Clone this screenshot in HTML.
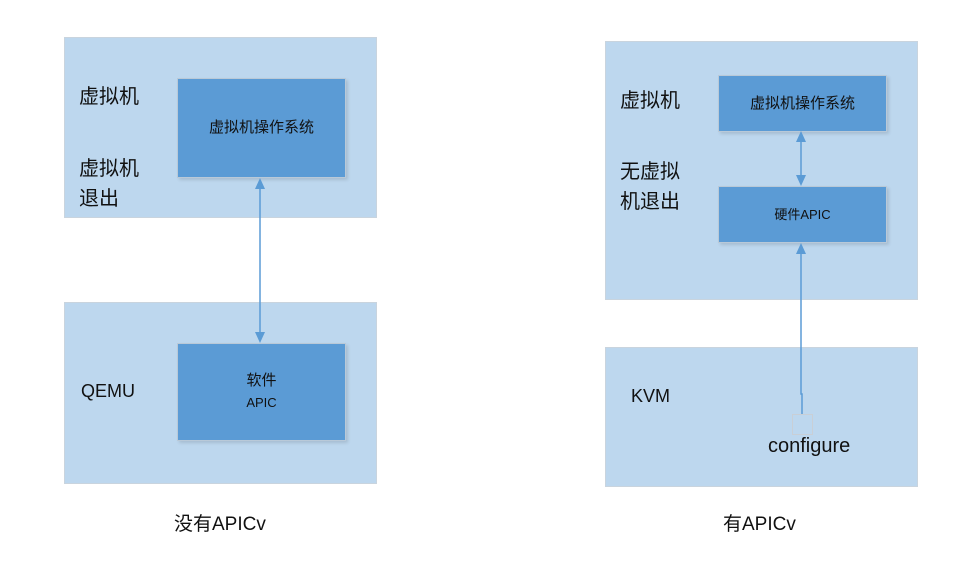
<!DOCTYPE html>
<html><head><meta charset="utf-8"><style>
body{margin:0;width:970px;height:571px;background:#fff;position:relative;overflow:hidden;font-family:"Liberation Sans","Noto Sans CJK SC",sans-serif;}
.o{position:absolute;background:#bdd7ee;border:1px solid #c9d4de;box-sizing:border-box;}
.i{position:absolute;background:#5b9bd5;border:1px solid #b9c9d8;box-sizing:border-box;display:flex;align-items:center;justify-content:center;text-align:center;font-size:15px;color:#111;line-height:22px;box-shadow:2px 2px 3px rgba(0,0,0,0.12);}
.t{position:absolute;font-size:19px;color:#111;line-height:30px;}
</style></head><body>
<div class="o" style="left:64px;top:37px;width:313px;height:181px"></div>
<div class="i" style="left:177px;top:78px;width:169px;height:100px">虚拟机操作系统</div>
<div class="t" style="left:79px;top:82px;font-size:20px">虚拟机</div>
<div class="t" style="left:79px;top:154px;font-size:20px">虚拟机<br>退出</div>

<div class="o" style="left:64px;top:302px;width:313px;height:182px"></div>
<div class="i" style="left:177px;top:343px;width:169px;height:98px"><div>软件<br><span style="font-size:13px">APIC</span></div></div>
<div class="t" style="left:81px;top:376px;font-size:18px">QEMU</div>

<div class="o" style="left:605px;top:41px;width:313px;height:259px"></div>
<div class="i" style="left:718px;top:75px;width:169px;height:57px">虚拟机操作系统</div>
<div class="i" style="left:718px;top:186px;width:169px;height:57px;font-size:13px">硬件APIC</div>
<div class="t" style="left:620px;top:86px;font-size:20px">虚拟机</div>
<div class="t" style="left:620px;top:157px;font-size:20px">无虚拟<br>机退出</div>

<div class="o" style="left:605px;top:347px;width:313px;height:140px"></div>
<div class="t" style="left:631px;top:381px;font-size:18px">KVM</div>
<div style="position:absolute;left:792px;top:414px;width:21px;height:21px;border:1px solid #c9cfd6;box-sizing:border-box"></div>
<div class="t" style="left:768px;top:431px;font-size:20px">configure</div>

<div class="t" style="left:174px;top:510px;font-size:19px">没有APICv</div>
<div class="t" style="left:723px;top:510px;font-size:19px">有APICv</div>

<svg width="970" height="571" style="position:absolute;left:0;top:0">
<g stroke="#5b9bd5" stroke-width="1.5" fill="#5b9bd5">
<line x1="260" y1="188" x2="260" y2="333"/>
<polygon points="260,178 255,189 265,189" stroke="none"/>
<polygon points="260,343 255,332 265,332" stroke="none"/>
<line x1="801" y1="141" x2="801" y2="176"/>
<polygon points="801,131 796,142 806,142" stroke="none"/>
<polygon points="801,186 796,175 806,175" stroke="none"/>
<polyline points="802,414 802,394 801,394 801,253" fill="none"/>
<polygon points="801,243 796,254 806,254" stroke="none"/>
</g>
</svg>
</body></html>
